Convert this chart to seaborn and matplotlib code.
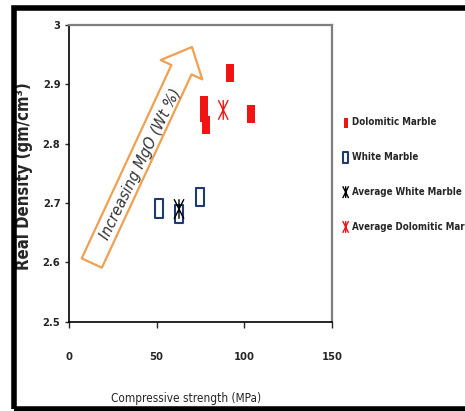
import matplotlib
matplotlib.use("Agg")
import matplotlib.pyplot as plt
from matplotlib.path import Path
from matplotlib.markers import MarkerStyle
from matplotlib.patches import FancyArrowPatch, Rectangle
import seaborn as sns

# data
dolomitic_x = [77.0, 77.2, 78.0, 92.0, 103.7]
dolomitic_y = [2.865, 2.852, 2.832, 2.919, 2.850]
white_x = [51.4, 62.8, 74.6]
white_y = [2.691, 2.681, 2.710]
avg_white_x = [62.8]
avg_white_y = [2.690]
avg_dolo_x = [88.0]
avg_dolo_y = [2.857]

x_ticks = [0, 50, 100, 150]
y_ticks = [2.5, 2.6, 2.7, 2.8, 2.9, 3.0]
y_tick_labels = ["2.5", "2.6", "2.7", "2.8", "2.9", "3"]

sns.set_style("white")
plt.rcParams["font.family"] = ["DejaVu Sans"]
plt.rcParams["font.stretch"] = "condensed"

# tall markers (the original picture is stretched vertically)
rect = Path([(-0.42, -1), (0.42, -1), (0.42, 1), (-0.42, 1), (-0.42, -1)],
            [Path.MOVETO, Path.LINETO, Path.LINETO, Path.LINETO, Path.CLOSEPOLY])
star_path = Path([(-0.5, -1), (0.5, 1), (-0.5, 1), (0.5, -1), (0, -1), (0, 1)],
                 [Path.MOVETO, Path.LINETO, Path.MOVETO, Path.LINETO, Path.MOVETO, Path.LINETO])
star = MarkerStyle(star_path, fillstyle="none")

red = "#F01414"
navy = "#1F3A6E"
orange = "#F0A050"

fig = plt.figure(figsize=(4.65, 4.11), dpi=100)
ax = fig.add_axes([0.148, 0.217, 0.566, 0.722])

sns.scatterplot(x=dolomitic_x, y=dolomitic_y, ax=ax, marker=rect, s=150,
                color=red, edgecolor=red, linewidth=0, label="Dolomitic Marble")
sns.scatterplot(x=white_x, y=white_y, ax=ax, marker=rect, s=170,
                facecolor="none", edgecolor=navy, linewidth=1.5, label="White Marble")
sns.scatterplot(x=avg_white_x, y=avg_white_y, ax=ax, marker=star, s=200,
                color="black", linewidth=1.0, label="Average White Marble")
sns.scatterplot(x=avg_dolo_x, y=avg_dolo_y, ax=ax, marker=star, s=200,
                color=red, linewidth=1.0, label="Average Dolomitic Marble")

ax.set_xlim(0, 150)
ax.set_ylim(2.5, 3.0)
ax.set_xticks(x_ticks)
ax.set_xticklabels([str(t) for t in x_ticks], fontsize=8, fontweight="bold")
ax.set_yticks(y_ticks)
ax.set_yticklabels(y_tick_labels, fontsize=8, fontweight="bold")
ax.tick_params(axis="x", direction="out", length=4, width=1, pad=18, bottom=True)
ax.tick_params(axis="y", direction="out", length=3, width=1, pad=3, left=True)

for s in ["left", "bottom"]:
    ax.spines[s].set_color("black")
    ax.spines[s].set_linewidth(1.2)
for s in ["top", "right"]:
    ax.spines[s].set_color("#7F7F7F")
    ax.spines[s].set_linewidth(1.6)

ax.set_xlabel("Compressive strength (MPa)", fontsize=8.5)
ax.xaxis.set_label_coords(0.445, -0.235)
ax.set_ylabel("Real Density (gm/cm³)", fontsize=12, fontweight="bold")
ax.yaxis.set_label_coords(-0.135, 0.49)

# block arrow with annotation
arrow = FancyArrowPatch((13.1, 2.599), (70.2, 2.963),
                        arrowstyle="simple,head_length=1.8,head_width=3.3,tail_width=1.6",
                        mutation_scale=10, shrinkA=0, shrinkB=0,
                        fc="white", ec=orange, lw=1.6, zorder=1)
ax.add_patch(arrow)
ax.text(41.0, 2.766, "Increasing MgO (Wt %)", rotation=64, rotation_mode="anchor",
        ha="center", va="center", fontsize=11.5, style="italic", color="#333333")

ax.legend(loc="upper left", bbox_to_anchor=(0.735, 0.715), bbox_transform=fig.transFigure,
          frameon=False, borderpad=0, borderaxespad=0, handlelength=0.8,
          handletextpad=0.3, labelspacing=2.55, markerscale=0.6,
          prop={"weight": "bold", "size": 7, "stretch": "condensed"})

# outer frame of the original image
fig.patches.append(Rectangle((0.031, 0.006), 1.2, 0.974, transform=fig.transFigure,
                             fill=False, ec="black", lw=4, clip_on=False))

fig.savefig("out.png", dpi=100)
